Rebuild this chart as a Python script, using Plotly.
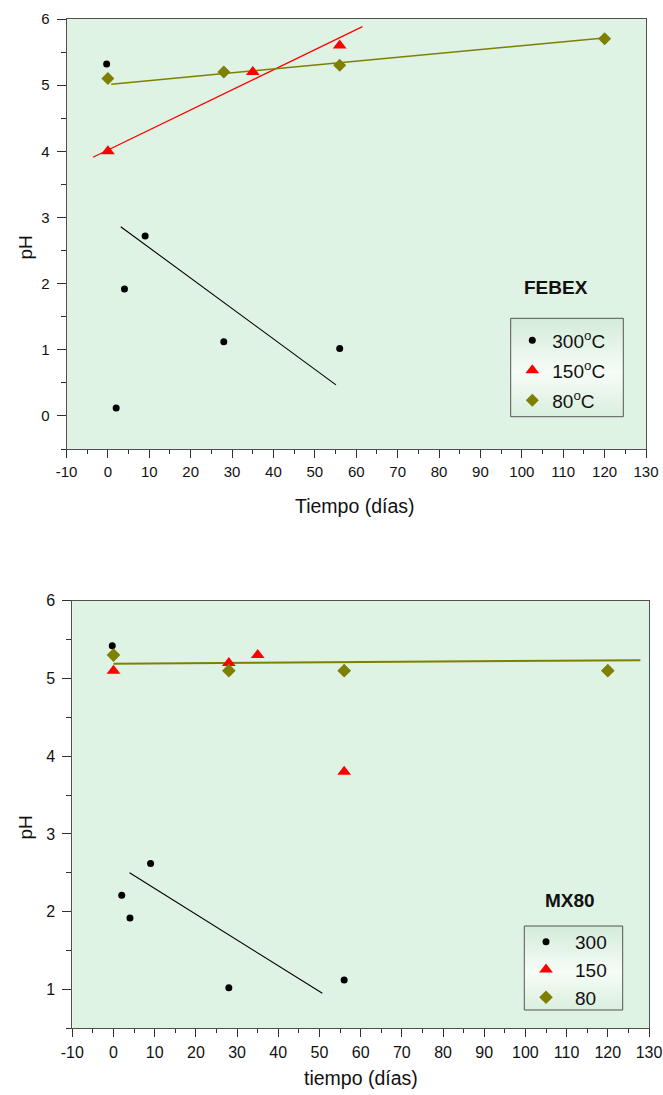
import plotly.graph_objects as go

# ---------------- data: pH vs time (days) ----------------
# FEBEX bentonite
febex_300_days = [-0.3, 2, 4, 9, 28, 56]
febex_300_ph = [5.32, 0.12, 1.92, 2.72, 1.12, 1.02]
febex_150_days = [0, 35, 56]
febex_150_ph = [4.0, 5.2, 5.6]
febex_80_days = [0, 28, 56, 120]
febex_80_ph = [5.1, 5.2, 5.3, 5.7]

# FEBEX trend lines (end points)
febex_300_fit_days = [3.1, 55.1]
febex_300_fit_ph = [2.86, 0.47]
febex_150_fit_days = [-3.6, 61.5]
febex_150_fit_ph = [3.91, 5.885]
febex_80_fit_days = [0.8, 119.2]
febex_80_fit_ph = [5.015, 5.71]

# MX80 bentonite
mx80_300_days = [-0.3, 2, 4, 9, 28, 56]
mx80_300_ph = [5.42, 2.21, 1.92, 2.62, 1.02, 1.12]
mx80_150_days = [0, 28, 35, 56]
mx80_150_ph = [5.1, 5.2, 5.3, 3.8]
mx80_80_days = [0, 28, 56, 120]
mx80_80_ph = [5.3, 5.1, 5.1, 5.1]

# MX80 trend lines (end points)
mx80_300_fit_days = [3.9, 50.7]
mx80_300_fit_ph = [2.5, 0.95]
mx80_80_fit_days = [0, 127.9]
mx80_80_fit_ph = [5.19, 5.235]

# tick labels
x_tickvals = list(range(-10, 131, 10))
x_ticktext = [str(v) for v in x_tickvals]
febex_y_ticks = [0, 1, 2, 3, 4, 5, 6]
mx80_y_ticks = [1, 2, 3, 4, 5, 6]

febex_legend_names = ["300<sup>o</sup>C", "150<sup>o</sup>C", "80<sup>o</sup>C"]
mx80_legend_names = ["300", "150", "80"]

# ---------------- styling ----------------
W, H = 663, 1095
FONT = "Liberation Sans, Arial, sans-serif"
PLOT_BG = "#DEF3E4"
BLACK = "#000000"
RED = "#FF0000"
OLIVE = "#7F7F00"
FRAME = "#505050"


def px_x(p):
    return p / W


def px_y(p):
    return 1 - p / H


fig = go.Figure()


def add_series(days, ph, name, symbol, color, size, xa, ya, legend, group):
    fig.add_trace(go.Scatter(
        x=days, y=ph, mode="markers", name=name,
        marker=dict(symbol=symbol, color=color, size=size, line=dict(width=0)),
        xaxis=xa, yaxis=ya, legend=legend, legendgroup=group,
    ))


def add_fit(days, ph, color, width, xa, ya):
    fig.add_trace(go.Scatter(
        x=days, y=ph, mode="lines", line=dict(color=color, width=width),
        showlegend=False, hoverinfo="skip", xaxis=xa, yaxis=ya,
    ))


# FEBEX panel
add_fit(febex_300_fit_days, febex_300_fit_ph, BLACK, 1.1, "x", "y")
add_fit(febex_150_fit_days, febex_150_fit_ph, RED, 1.3, "x", "y")
add_fit(febex_80_fit_days, febex_80_fit_ph, OLIVE, 1.5, "x", "y")
add_series(febex_300_days, febex_300_ph, febex_legend_names[0], "circle", BLACK, 7, "x", "y", "legend", "f300")
add_series(febex_150_days, febex_150_ph, febex_legend_names[1], "triangle-up", RED, 12, "x", "y", "legend", "f150")
add_series(febex_80_days, febex_80_ph, febex_legend_names[2], "diamond", OLIVE, 10, "x", "y", "legend", "f80")

# MX80 panel
add_fit(mx80_300_fit_days, mx80_300_fit_ph, BLACK, 1.1, "x2", "y2")
add_fit(mx80_80_fit_days, mx80_80_fit_ph, OLIVE, 2, "x2", "y2")
add_series(mx80_300_days, mx80_300_ph, mx80_legend_names[0], "circle", BLACK, 7, "x2", "y2", "legend2", "m300")
add_series(mx80_150_days, mx80_150_ph, mx80_legend_names[1], "triangle-up", RED, 12, "x2", "y2", "legend2", "m150")
add_series(mx80_80_days, mx80_80_ph, mx80_legend_names[2], "diamond", OLIVE, 10.5, "x2", "y2", "legend2", "m80")


def xaxis_style(domain, anchor, size):
    return dict(
        domain=domain, anchor=anchor, range=[-10, 130], automargin=False,
        tickmode="array", tickvals=x_tickvals, ticktext=x_ticktext,
        ticks="outside", ticklen=8, tickwidth=1, tickcolor="#303030",
        minor=dict(ticks="outside", dtick=5, ticklen=4, tickcolor="#303030"),
        showline=True, linecolor=FRAME, linewidth=1, mirror=True,
        showgrid=False, zeroline=False, ticklabelstandoff=1,
        tickfont=dict(family=FONT, size=size, color="#111111"),
    )


def yaxis_style(domain, anchor, rng, ticks, size):
    return dict(
        domain=domain, anchor=anchor, range=rng, automargin=False,
        tickmode="array", tickvals=ticks, ticktext=[str(t) for t in ticks],
        ticks="outside", ticklen=9, tickwidth=1, tickcolor="#303030",
        minor=dict(ticks="outside", dtick=0.5, ticklen=5, tickcolor="#303030"),
        showline=True, linecolor=FRAME, linewidth=1, mirror=True,
        showgrid=False, zeroline=False, ticklabelstandoff=4,
        tickfont=dict(family=FONT, size=size, color="#111111"),
    )


# legend boxes with a soft vertical gradient
shapes = []


def legend_box(x0, y0, x1, y1):
    edge = (212, 236, 217)
    mid = (246, 252, 247)
    n = 30
    for i in range(n):
        t = (i + 0.5) / n
        w = max(0.0, 1 - abs(t - 0.55) / 0.55)
        c = tuple(int(round(edge[k] + (mid[k] - edge[k]) * w)) for k in range(3))
        ya = y0 + (y1 - y0) * i / n
        yb = y0 + (y1 - y0) * (i + 1) / n
        shapes.append(dict(type="rect", xref="paper", yref="paper",
                           x0=px_x(x0), x1=px_x(x1), y0=px_y(ya), y1=px_y(min(yb + 0.6, y1)),
                           fillcolor="rgb(%d,%d,%d)" % c, line=dict(width=0), layer="above"))
    shapes.append(dict(type="rect", xref="paper", yref="paper",
                       x0=px_x(x0), x1=px_x(x1), y0=px_y(y0), y1=px_y(y1),
                       fillcolor="rgba(0,0,0,0)", line=dict(color="#555555", width=1), layer="above"))


legend_box(510.7, 318.3, 623.3, 416.7)
legend_box(524.3, 926, 622.7, 1010)

annotations = [
    dict(text="<b>FEBEX</b>", x=px_x(555.8), y=px_y(287.5), xref="paper", yref="paper",
         showarrow=False, xanchor="center", yanchor="middle",
         font=dict(family=FONT, size=19, color="#111111")),
    dict(text="<b>MX80</b>", x=px_x(570.3), y=px_y(900), xref="paper", yref="paper",
         showarrow=False, xanchor="center", yanchor="middle",
         font=dict(family=FONT, size=19, color="#111111")),
    dict(text="Tiempo (días)", x=px_x(355), y=px_y(506), xref="paper", yref="paper",
         showarrow=False, xanchor="center", yanchor="middle",
         font=dict(family=FONT, size=19.5, color="#111111")),
    dict(text="tiempo (días)", x=px_x(361), y=px_y(1078), xref="paper", yref="paper",
         showarrow=False, xanchor="center", yanchor="middle",
         font=dict(family=FONT, size=19.5, color="#111111")),
    dict(text="pH", x=px_x(24.5), y=px_y(248), xref="paper", yref="paper",
         showarrow=False, xanchor="center", yanchor="middle", textangle=-90,
         font=dict(family=FONT, size=19, color="#111111")),
    dict(text="pH", x=px_x(24.5), y=px_y(828), xref="paper", yref="paper",
         showarrow=False, xanchor="center", yanchor="middle", textangle=-90,
         font=dict(family=FONT, size=19, color="#111111")),
]

fig.update_layout(
    width=W, height=H, autosize=False,
    margin=dict(l=0, r=0, t=0, b=0, pad=0, autoexpand=False),
    paper_bgcolor="white", plot_bgcolor=PLOT_BG,
    font=dict(family=FONT, color="#111111"),
    xaxis=xaxis_style([px_x(66.5), px_x(646)], "y", 15),
    yaxis=yaxis_style([px_y(449), px_y(19)], "x", [-0.5, 6], febex_y_ticks, 15),
    xaxis2=xaxis_style([px_x(72.3), px_x(649)], "y2", 16),
    yaxis2=yaxis_style([px_y(1028.3), px_y(600.7)], "x2", [0.5, 6], mx80_y_ticks, 16),
    legend=dict(x=px_x(512.3), y=px_y(321.5), xanchor="left", yanchor="top",
                bgcolor="rgba(0,0,0,0)", borderwidth=0, traceorder="grouped",
                tracegroupgap=2.3, itemwidth=30,
                font=dict(family=FONT, size=19, color="#111111")),
    legend2=dict(x=px_x(517), y=px_y(923), xanchor="left", yanchor="top",
                 bgcolor="rgba(0,0,0,0)", borderwidth=0, traceorder="grouped",
                 tracegroupgap=0, itemwidth=48,
                 font=dict(family=FONT, size=19, color="#111111")),
    shapes=shapes,
    annotations=annotations,
    showlegend=True,
)

fig.write_html("out.html")
